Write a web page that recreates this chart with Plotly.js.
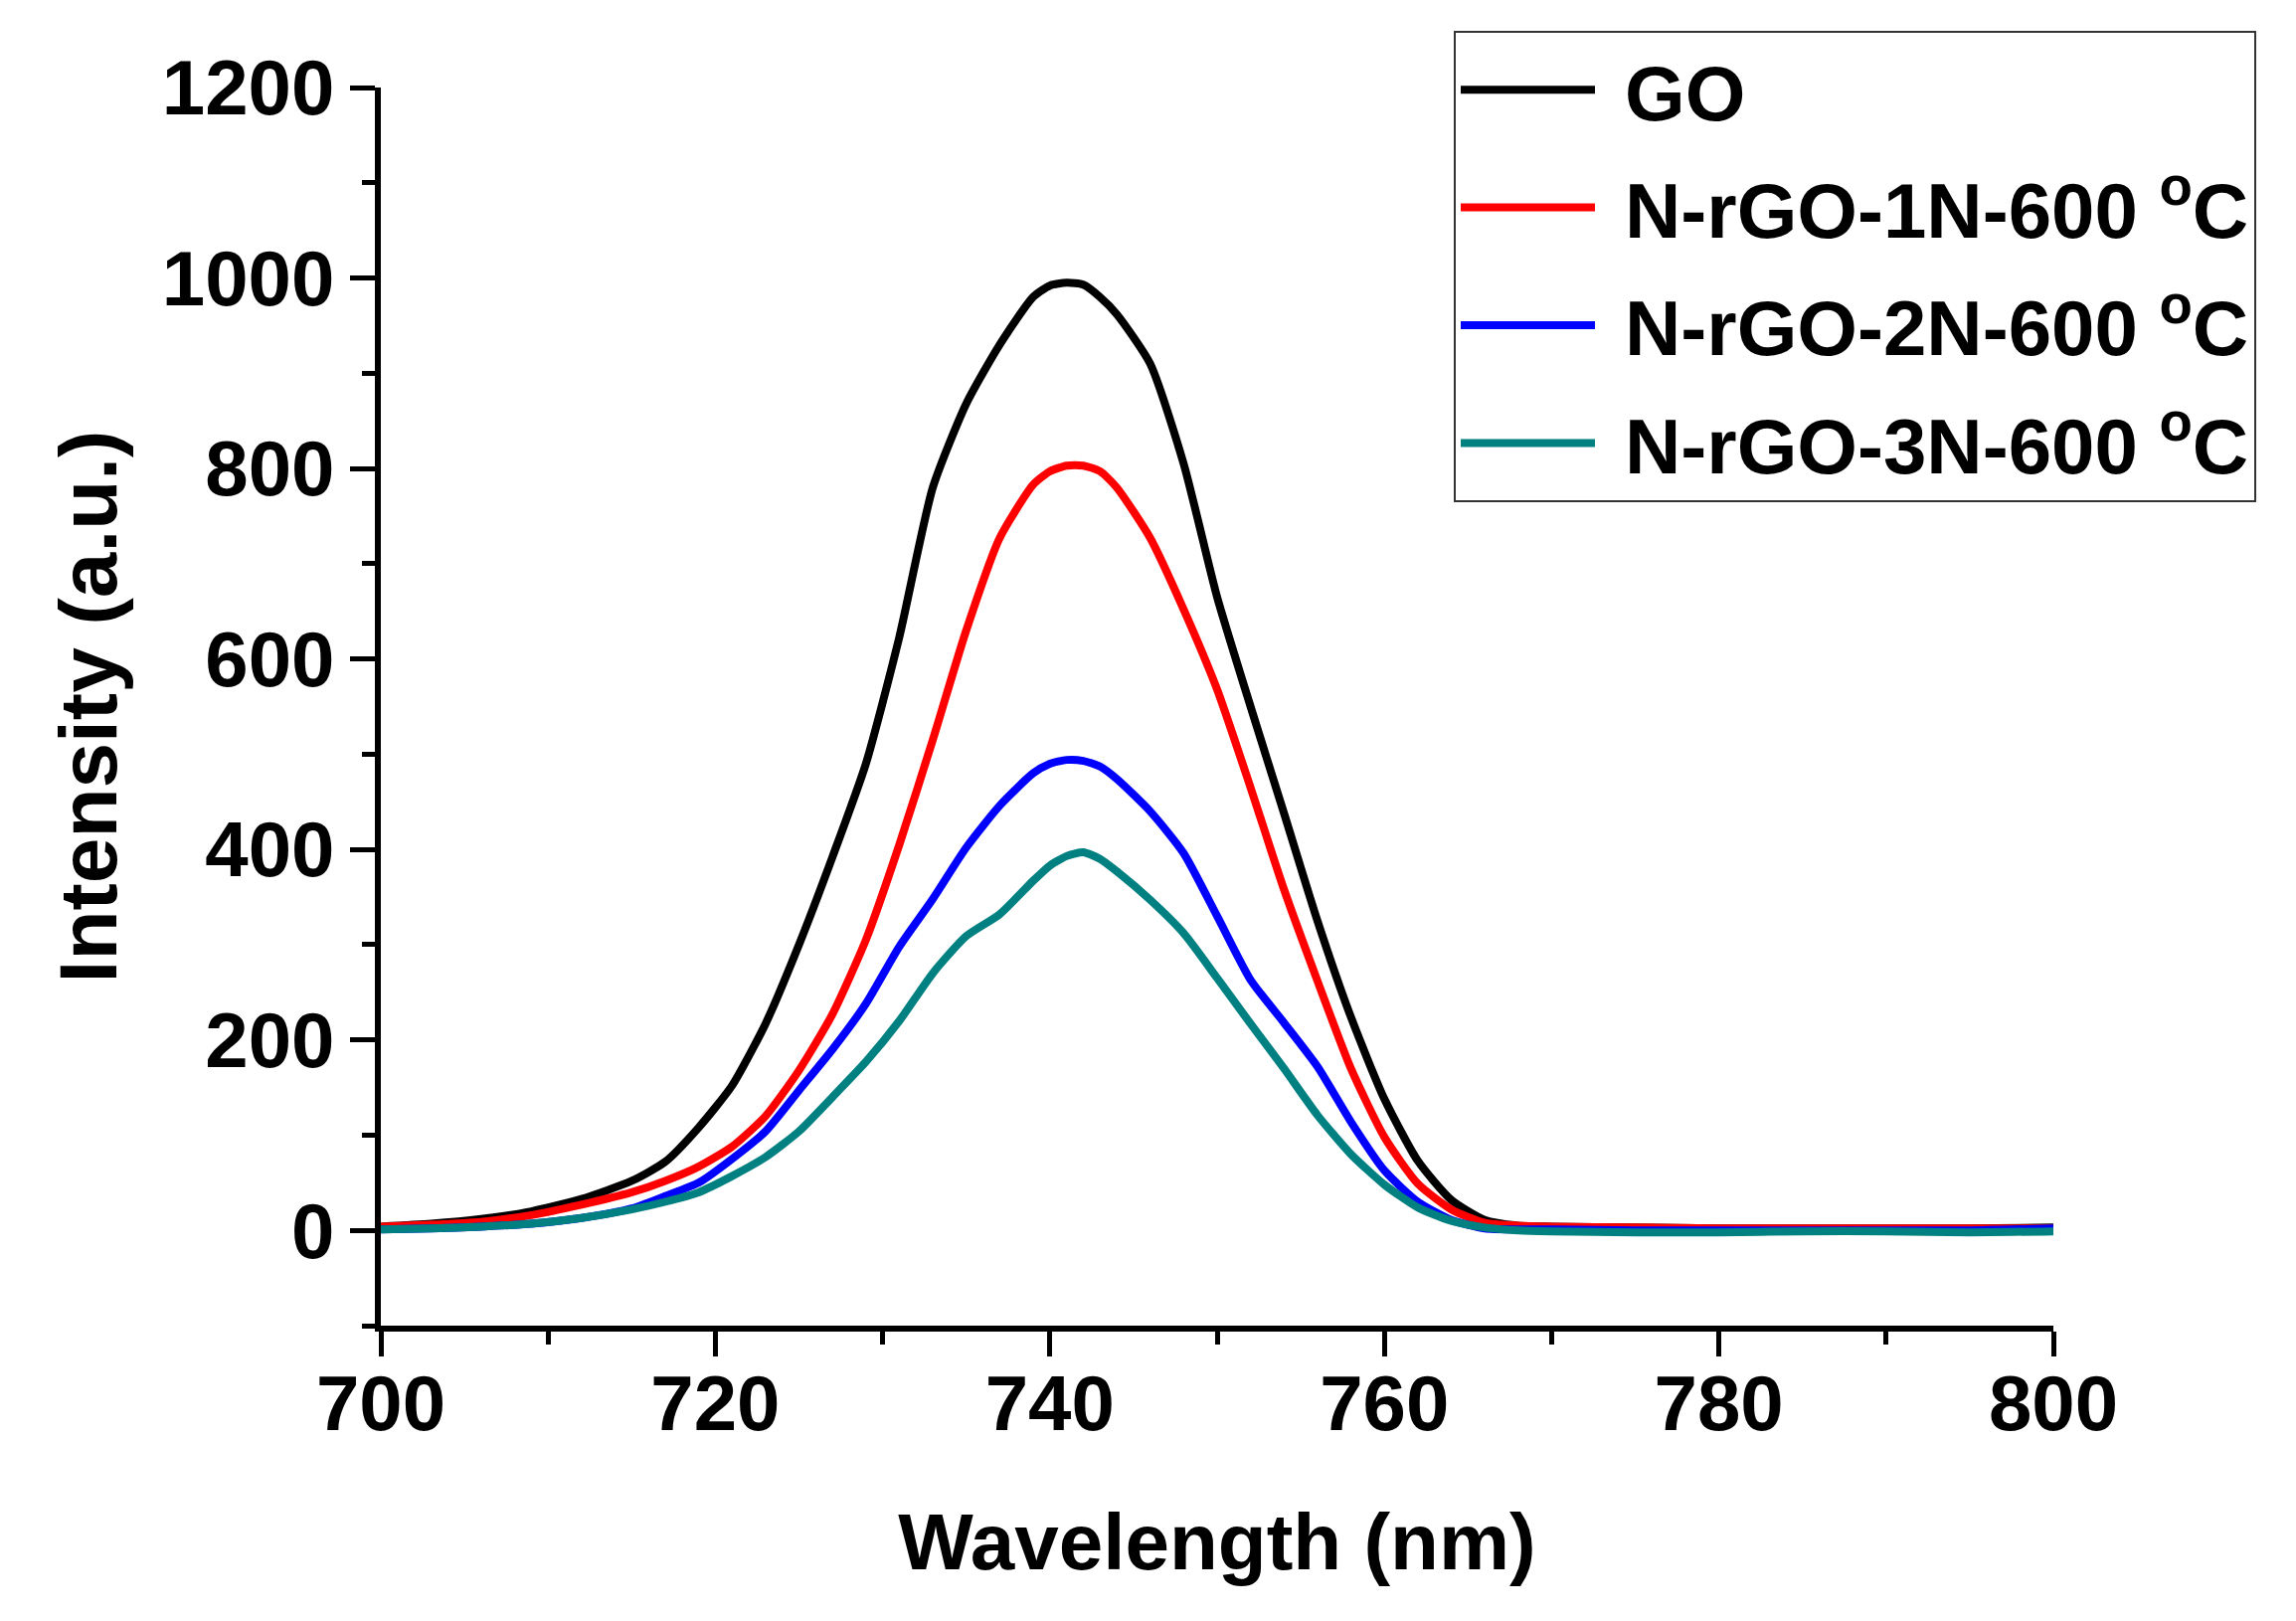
<!DOCTYPE html>
<html>
<head>
<meta charset="utf-8">
<script src="https://cdn.plot.ly/plotly-3.0.1.min.js"></script>
<style>
  html, body { margin: 0; padding: 0; background: #ffffff; }
  #chart { width: 2309px; height: 1630px; }
</style>
</head>
<body>
<div id="chart"></div>
<script>
// Wavelength grid (nm)
const wavelength = [700,703,706,709,712,715,717,719,721,723,725,727,729,731,733,735,737,739,740,741,742,743,744,746,748,750,752,754,756,758,760,762,764,766,768,770,775,780,785,790,795,800];

// Intensity (a.u.) for each sample
const goIntensity  = [4,7,12,20,33,52,72,108,152,217,300,392,490,623,780,868,930,980,992,995,993,980,962,910,805,665,550,438,325,224,138,73,32,11,5,4,3,2,2,2,2,3];
const n1Intensity  = [4,6,9,16,27,40,52,67,88,120,168,227,305,405,515,630,727,783,797,803,803,797,780,727,652,568,465,358,262,170,98,49,22,8,5,4,3,2,2,2,2,2];
const n2Intensity  = [1,2,4,7,13,23,36,50,75,104,147,190,238,298,348,402,446,480,490,494,493,487,474,440,396,330,263,218,172,114,63,30,11,2,1,1,0,0,0,0,0,2];
const n3Intensity  = [1,2,4,7,13,22,30,40,57,77,104,140,177,220,270,309,332,367,383,393,397,390,377,347,312,265,217,170,121,80,48,24,10,3,0,-1,-2,-2,-1,-1,-2,-1];

const seriesNames  = ['GO', 'N-rGO-1N-600 <sup>o</sup>C', 'N-rGO-2N-600 <sup>o</sup>C', 'N-rGO-3N-600 <sup>o</sup>C'];
const seriesColors = ['#000000', '#ff0000', '#0000ff', '#008080'];
const seriesData   = [goIntensity, n1Intensity, n2Intensity, n3Intensity];

const xTickVals = [700, 720, 740, 760, 780, 800];
const yTickVals = [0, 200, 400, 600, 800, 1000, 1200];

const FONT = 'Liberation Sans, Arial, Helvetica, sans-serif';

const traces = seriesData.map((ys, i) => ({
  x: wavelength,
  y: ys,
  name: seriesNames[i],
  legendgroup: 'g' + i,
  type: 'scatter',
  mode: 'lines',
  line: { color: seriesColors[i], width: 8, shape: 'spline', smoothing: 0.6 }
}));

const layout = {
  width: 2309,
  height: 1630,
  paper_bgcolor: '#ffffff',
  plot_bgcolor: '#ffffff',
  margin: { l: 383, r: 244, t: 88, b: 297 },
  font: { family: FONT, color: '#000000', size: 78, weight: 700 },
  showlegend: true,
  legend: {
    x: 0.6415, y: 1.0458, xanchor: 'left', yanchor: 'top',
    bgcolor: '#ffffff', bordercolor: '#333333', borderwidth: 2,
    font: { family: FONT, size: 78, weight: 700, color: '#000000' },
    itemwidth: 160,
    tracegroupgap: 14
  },
  xaxis: {
    range: [700, 800],
    tickmode: 'array', tickvals: xTickVals,
    ticks: 'outside', ticklen: 25, tickwidth: 5, tickcolor: '#000000',
    ticklabelstandoff: -20,
    minor: { dtick: 10, ticks: 'outside', ticklen: 13, tickwidth: 5, tickcolor: '#000000', showgrid: false },
    showline: true, linewidth: 6, linecolor: '#000000',
    showgrid: false, zeroline: false, mirror: false,
    tickfont: { family: FONT, size: 78, weight: 700, color: '#000000' },
    title: { text: 'Wavelength (nm)', font: { family: FONT, size: 80, weight: 700, color: '#000000' }, standoff: 70 },
    automargin: false
  },
  yaxis: {
    range: [-100, 1200],
    tickmode: 'array', tickvals: yTickVals,
    ticks: 'outside', ticklen: 25, tickwidth: 5, tickcolor: '#000000',
    minor: { dtick: 100, tick0: -100, ticks: 'outside', ticklen: 13, tickwidth: 5, tickcolor: '#000000', showgrid: false },
    showline: true, linewidth: 6, linecolor: '#000000',
    showgrid: false, zeroline: false, mirror: false,
    tickfont: { family: FONT, size: 78, weight: 700, color: '#000000' },
    title: { text: 'Intensity (a.u.)', font: { family: FONT, size: 82, weight: 700, color: '#000000' }, standoff: 20 },
    automargin: false
  }
};

Plotly.newPlot('chart', traces, layout, { staticPlot: true, displayModeBar: false }).then(gd => {
  gd.querySelectorAll('.legend .js-line').forEach(p => p.setAttribute('d', 'M5,0h135'));
});
</script>
</body>
</html>
